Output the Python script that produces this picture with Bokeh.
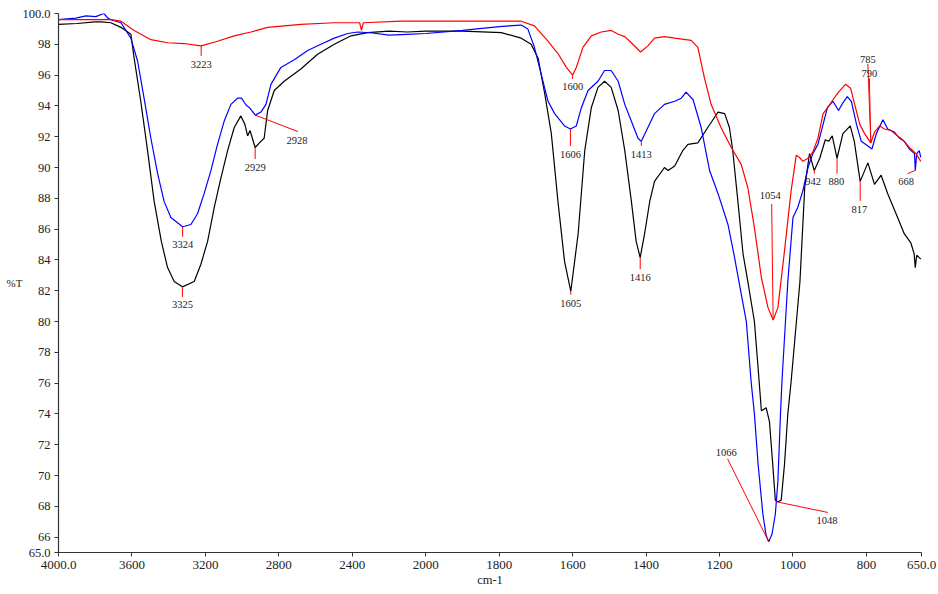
from bokeh.plotting import figure
from bokeh.models import Range1d, FixedTicker
from bokeh.core.properties import value
from bokeh.embed import file_html
from bokeh.resources import INLINE
import numpy as np

# ---- data (wavenumber cm-1, %T) ----
black_w = [4000, 3900, 3800, 3769, 3715, 3660, 3606, 3588, 3552, 3515, 3479, 3440, 3406, 3370, 3325,
           3261, 3225, 3188, 3152, 3116, 3079, 3043, 3007, 2985, 2970, 2957, 2929, 2898, 2880, 2861,
           2825, 2771, 2680, 2589, 2498, 2407, 2316, 2200, 2100, 2000, 1900, 1794, 1740, 1713, 1694,
           1676, 1658, 1640, 1622, 1605, 1585, 1567, 1549, 1531, 1513, 1495, 1476, 1458, 1440, 1427,
           1416, 1404, 1390, 1377, 1350, 1340, 1322, 1300, 1286, 1259, 1232, 1204, 1186, 1173, 1164,
           1150, 1136, 1123, 1105, 1095, 1086, 1073, 1064, 1055, 1048, 1041, 1032, 1023, 1014, 1005,
           981, 968, 955, 942, 927, 912, 903, 893, 880, 864, 844, 833, 817, 796, 778, 760, 742, 715,
           697, 679, 670, 667, 663, 656, 652]
black_t = [99.3, 99.35, 99.45, 99.45, 99.4, 99.1, 98.65, 97.1, 94.3, 91.1, 87.8, 85.2, 83.5, 82.6, 82.25,
           82.6, 83.7, 85.2, 87.4, 89.3, 91.1, 92.6, 93.35, 92.8, 92.05, 92.4, 91.3, 91.7, 91.9, 93.7,
           95.0, 95.6, 96.4, 97.35, 98.0, 98.55, 98.76, 98.85, 98.8, 98.85, 98.85, 98.76, 98.4, 98.0, 97.1,
           94.8, 92.2, 87.8, 83.9, 81.95, 85.7, 91.1, 93.9, 95.2, 95.6, 95.2, 93.7, 91.1, 87.8, 85.2,
           84.15, 85.7, 87.8, 89.1, 90.0, 89.8, 90.1, 91.1, 91.5, 91.6, 92.6, 93.6, 93.5, 92.6, 91.1,
           87.8, 84.4, 82.6, 80.0, 77.0, 74.2, 74.4, 73.5, 70.7, 68.4, 68.3, 68.4, 70.75, 74.0, 76.1,
           82.6, 88.7, 90.9, 89.8, 90.6, 91.8, 91.7, 92.05, 90.6, 92.2, 92.7, 91.7, 89.1, 90.3, 88.9,
           89.5, 88.3, 86.75, 85.7, 85.1, 84.4, 83.5, 84.3, 84.15, 84.05]

blue_w = [4000, 3906, 3851, 3797, 3753, 3731, 3715, 3660, 3606, 3569, 3534, 3497, 3460, 3425, 3388,
          3324, 3279, 3243, 3207, 3170, 3134, 3098, 3061, 3025, 3003, 2979, 2961, 2928, 2898, 2870,
          2843, 2789, 2716, 2643, 2571, 2498, 2425, 2370, 2300, 2200, 2100, 2000, 1900, 1800, 1740,
          1722, 1704, 1686, 1667, 1649, 1622, 1606, 1590, 1576, 1558, 1531, 1513, 1495, 1476, 1458,
          1440, 1422, 1413, 1395, 1377, 1350, 1322, 1304, 1291, 1272, 1250, 1227, 1204, 1177, 1159,
          1141, 1127, 1114, 1105, 1095, 1082, 1073, 1066, 1057, 1048, 1041, 1034, 1030, 1014, 1000,
          987, 973, 959, 946, 932, 918, 906, 891, 876, 864, 852, 841, 827, 814, 796, 785, 773, 755,
          742, 724, 710, 697, 683, 669, 667, 663, 656, 652]
blue_t = [99.6, 99.7, 99.85, 99.8, 100.0, 99.7, 99.6, 99.4, 98.4, 96.9, 94.5, 91.9, 89.6, 87.8, 86.75,
          86.15, 86.3, 87.0, 88.3, 89.8, 91.5, 93.0, 94.1, 94.5, 94.5, 94.06, 93.9, 93.4, 93.6, 94.1,
          95.4, 96.5, 97.0, 97.6, 98.0, 98.4, 98.7, 98.8, 98.75, 98.6, 98.65, 98.7, 98.9, 99.15, 99.25,
          99.0, 97.8, 96.1, 94.3, 93.5, 92.7, 92.5, 92.7, 93.9, 95.0, 95.6, 96.3, 96.3, 95.6, 94.1,
          93.0, 91.9, 91.7, 92.6, 93.5, 94.1, 94.3, 94.5, 94.9, 94.4, 92.6, 89.8, 88.3, 86.3, 84.15,
          81.8, 80.0, 76.1, 74.0, 70.75, 67.5, 66.1, 65.7, 66.2, 67.5, 69.65, 74.0, 76.1, 82.6, 86.75,
          87.4, 88.5, 90.0, 90.9, 91.5, 92.8, 93.9, 94.3, 93.7, 94.2, 94.6, 94.3, 92.8, 91.7, 91.4,
          91.2, 92.2, 93.1, 92.5, 92.3, 91.9, 91.7, 91.2, 90.9, 89.8, 90.9, 91.1, 90.65]

red_w = [4000, 3715, 3660, 3588, 3497, 3406, 3316, 3223, 3134, 3043, 2952, 2861, 2771, 2680, 2498,
         2360, 2350, 2340, 2135, 1939, 1794, 1740, 1704, 1667, 1640, 1617, 1600, 1590, 1572, 1549,
         1522, 1495, 1476, 1458, 1440, 1415, 1395, 1377, 1350, 1322, 1277, 1259, 1241, 1223, 1196,
         1168, 1141, 1123, 1105, 1086, 1068, 1054, 1041, 1023, 1005, 991, 982, 973, 959, 946, 932,
         918, 905, 891, 876, 857, 843, 832, 818, 805, 788, 778, 764, 751, 733, 715, 701, 683, 665, 652]
red_t = [99.6, 99.6, 99.5, 98.9, 98.3, 98.1, 98.05, 97.9, 98.2, 98.55, 98.8, 99.1, 99.2, 99.3, 99.4,
         99.4, 98.9, 99.4, 99.5, 99.5, 99.5, 99.5, 99.2, 98.2, 97.4, 96.5, 96.0, 96.5, 97.8, 98.55,
         98.8, 98.9, 98.65, 98.5, 98.1, 97.5, 97.9, 98.4, 98.5, 98.4, 98.25, 97.8, 95.8, 94.1, 92.6,
         91.3, 90.2, 88.7, 86.1, 82.85, 80.9, 80.1, 80.9, 84.6, 88.5, 90.8, 90.65, 90.4, 90.6, 91.0, 91.9,
         93.5, 93.9, 94.4, 94.9, 95.4, 95.15, 94.1, 92.8, 92.2, 91.6, 92.3, 92.7, 92.5, 92.4, 92.05, 91.8,
         91.3, 90.9, 90.4]

# peak annotations
ann_text = ["3223", "3324", "3325", "2929", "2928", "1600", "1606", "1413", "1605", "1416",
            "1054", "1066", "1048", "942", "880", "817", "785", "790", "668"]
tip_w = [3223, 3324, 3325, 2929, 2928, 1600, 1606, 1413, 1605, 1416, 1054, 1066, 1046, 942, 880, 817, 788, 788, 668]
tip_t = [97.9, 86.15, 82.25, 91.3, 93.4, 96.0, 92.5, 91.7, 81.95, 84.15, 80.1, 65.7, 68.3, 89.8, 90.6, 89.1, 91.6, 91.6, 89.8]
end_w = [3223, 3324, 3325, 2929, 2696, 1600, 1606, 1413, 1605, 1416, 1058, 1178, 905, 942, 880, 817, 796, 792, 688]
end_t = [97.25, 85.5, 81.6, 90.55, 92.33, 95.75, 91.4, 91.4, 81.73, 83.4, 87.64, 71.08, 67.6, 89.6, 89.6, 87.83, 96.73, 95.8, 89.6]
lab_w = [3223, 3324, 3325, 2929, 2701, 1600, 1606, 1413, 1605, 1416, 1062, 1182, 907, 945, 882, 819, 796, 792, 692]
lab_t = [96.7, 84.97, 81.1, 89.97, 91.73, 95.28, 90.84, 90.84, 81.15, 82.85, 88.2, 71.47, 67.1, 89.1, 89.1, 87.27, 97.0, 96.1, 89.1]

x_ticks = [4000, 3600, 3200, 2800, 2400, 2000, 1800, 1600, 1400, 1200, 1000, 800, 650]
x_tick_labels = ["4000.0", "3600", "3200", "2800", "2400", "2000", "1800", "1600", "1400", "1200", "1000", "800", "650.0"]
y_ticks = [65, 66, 68, 70, 72, 74, 76, 78, 80, 82, 84, 86, 88, 90, 92, 94, 96, 98, 100]
y_tick_labels = ["65.0", "66", "68", "70", "72", "74", "76", "78", "80", "82", "84", "86", "88", "90",
                 "92", "94", "96", "98", "100.0"]


def axis_pos(w):
    """Instrument-style split axis: above 2000 cm-1 the scale is halved."""
    w = np.asarray(w, dtype=float)
    return np.where(w <= 2000, w, 2000 + (w - 2000) / 2.0)


FONT = "Liberation Serif"
TXT = "#222222"

p = figure(width=938, height=594, output_backend="svg", toolbar_location=None,
           x_range=Range1d(float(axis_pos(4000)), float(axis_pos(650))),
           y_range=Range1d(65, 100),
           min_border_left=58, min_border_right=17, min_border_top=13, min_border_bottom=42)
p.outline_line_color = None
p.grid.visible = False
p.background_fill_color = "white"

xt = [float(v) for v in axis_pos(x_ticks)]
p.xaxis.ticker = FixedTicker(ticks=xt)
p.xaxis.major_label_overrides = {t: l for t, l in zip(xt, x_tick_labels)}
p.yaxis.ticker = FixedTicker(ticks=y_ticks)
p.yaxis.major_label_overrides = {t: l for t, l in zip(y_ticks, y_tick_labels)}

for ax in (p.xaxis[0], p.yaxis[0]):
    ax.axis_line_color = "#333333"
    ax.axis_line_width = 1.2
    ax.major_tick_line_color = "#333333"
    ax.major_tick_out = 4
    ax.major_tick_in = 0
    ax.minor_tick_out = 0
    ax.minor_tick_in = 0
    ax.major_label_text_font = FONT
    ax.major_label_text_color = TXT
    ax.major_label_standoff = 4
    ax.axis_label_text_font = FONT
    ax.axis_label_text_font_style = "normal"
    ax.axis_label_text_color = TXT
p.xaxis.major_label_text_font_size = "13px"
p.yaxis.major_label_text_font_size = "12.5px"
p.xaxis.axis_label = "cm-1"
p.xaxis.axis_label_text_font_size = "12.5px"
p.xaxis.axis_label_standoff = 1
p.yaxis.axis_label = "%T"
p.yaxis.axis_label_orientation = "horizontal"
p.yaxis.axis_label_text_font_size = "11px"
p.yaxis.axis_label_standoff = -3

p.line(axis_pos(black_w), black_t, line_color="black", line_width=1.2)
p.line(axis_pos(blue_w), blue_t, line_color="#0000ff", line_width=1.2)
p.line(axis_pos(red_w), red_t, line_color="#ff0000", line_width=1.2)

p.segment(x0=axis_pos(tip_w), y0=tip_t, x1=axis_pos(end_w), y1=end_t,
          line_color="#ff0000", line_width=1)
p.text(x=axis_pos(lab_w), y=lab_t, text=ann_text, text_font=value(FONT),
       text_font_size="10.5px", text_align="center", text_baseline="middle", text_color=TXT)

open("out.html", "w").write(file_html(p, INLINE))
